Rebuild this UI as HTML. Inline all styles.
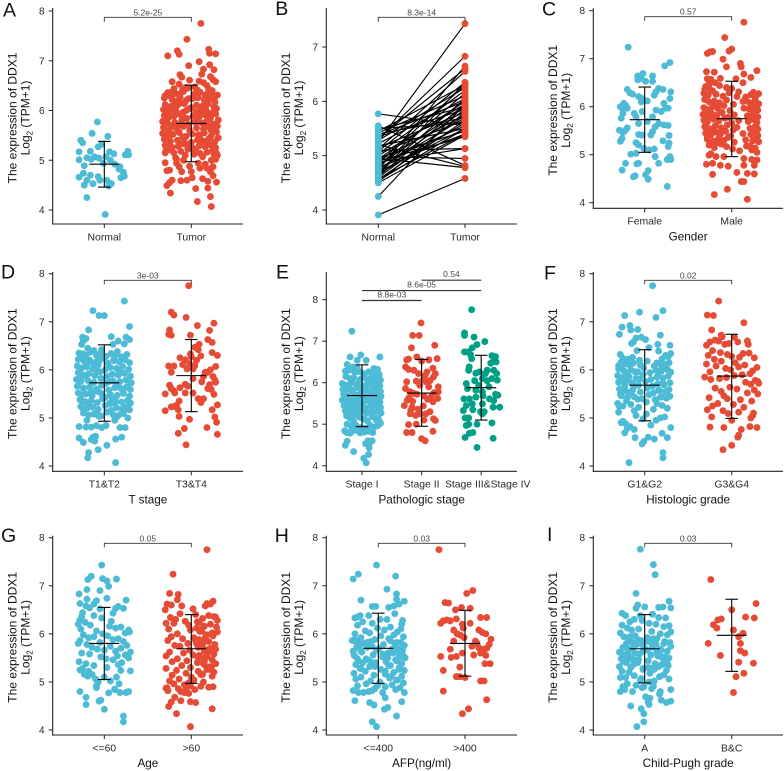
<!DOCTYPE html>
<html lang="en">
<head>
<meta charset="utf-8">
<title>DDX1 expression panels</title>
<style>
html,body{margin:0;padding:0;background:#fff;}
svg{display:block;font-family:"Liberation Sans",sans-serif;}
</style>
</head>
<body>
<svg id="chart" width="784" height="771" viewBox="0 0 784 771" xmlns="http://www.w3.org/2000/svg"></svg>
<script>
// Jitter values are hundredths of a category width; values are log2(TPM+1).
const aNormalValues=[5.77,5.54,5.48,5.40,5.35,5.27,5.32,5.17,5.18,5.17,
5.13,5.18,5.11,5.11,5.01,5.05,5.02,5.07,5.04,5.07,
5.00,4.89,4.94,4.92,4.87,4.82,4.74,4.70,4.66,4.67,
4.60,4.76,4.68,4.65,4.60,4.50,4.53,4.60,4.53,4.48,
4.25,3.91];
const aNormalJitter=[-8,-14,4,-27,-25,-7,-3,-29,-16,6,
11,27,24,28,-29,-20,-15,-11,-6,2,
7,-23,-1,12,18,17,-24,-16,-29,-7,
-5,22,23,19,-20,-23,-13,3,8,5,
-20,1];
const aTumorValues=[7.75,7.43,7.20,7.13,7.10,7.23,7.15,7.14,6.98,6.90,
6.92,6.83,6.82,6.73,6.72,6.67,6.68,6.58,6.61,6.59,
6.58,6.62,6.53,6.56,6.50,6.45,6.42,6.47,6.40,6.44,
6.36,6.34,6.38,6.30,6.33,6.37,6.32,6.35,6.29,6.31,
6.25,6.22,6.27,6.20,6.24,6.26,6.21,6.23,6.28,6.19,
6.12,6.08,6.10,6.14,6.06,6.11,6.09,6.13,6.07,6.15,
6.02,5.98,6.00,5.96,6.03,5.97,5.99,6.01,5.95,6.04,
5.90,5.86,5.88,5.92,5.84,5.89,5.87,5.91,5.85,5.93,
5.78,5.74,5.76,5.80,5.72,5.77,5.75,5.79,5.73,5.81,
5.66,5.62,5.64,5.68,5.60,5.65,5.63,5.67,5.61,5.69,
5.54,5.50,5.52,5.56,5.48,5.53,5.51,5.55,5.49,5.57,
5.42,5.38,5.40,5.44,5.36,5.41,5.39,5.43,5.37,5.45,
5.30,5.26,5.28,5.32,5.24,5.29,5.27,5.31,5.25,5.33,
5.20,5.15,5.18,5.22,5.12,5.14,5.16,5.19,5.10,5.21,
5.15,4.95,4.79,4.80,4.94,4.87,4.77,4.77,4.84,4.84,
4.77,4.88,4.94,4.87,5.07,5.00,5.14,5.02,5.10,5.02,
4.63,4.65,4.60,4.59,4.60,4.55,4.49,4.34,4.43,4.58,
4.56,4.44,4.27,4.17,4.07,4.69,
6.46,6.41,6.36,6.30,6.24,6.18,6.11,6.05,5.99,5.93,
5.87,5.81,5.75,5.69,5.63,5.57,5.51,5.45,5.39,5.33,
6.43,6.33,6.26,6.16,6.10,6.00,5.92,5.84,5.78,5.70,
5.60,5.54,5.47,5.35,5.28,5.20,5.12,5.05,5.00,4.92];
const aTumorJitter=[11,-5,-16,-14,-27,20,21,28,9,-3,
21,14,26,12,-13,-11,22,-22,-2,9,
28,25,-14,14,18,-4,-10,4,24,-20,
-27,-18,-9,-30,3,10,17,23,-24,30,
-31,-22,-13,-6,1,8,15,21,27,-17,
-30,-24,-16,-8,0,6,13,19,26,-12,
-32,-25,-18,-10,-3,5,11,17,24,29,
-31,-26,-20,-13,-5,2,9,16,22,28,
-33,-27,-19,-11,-4,4,12,18,25,31,
-32,-25,-17,-9,-2,6,14,20,26,30,
-33,-28,-21,-14,-6,1,8,15,23,29,
-31,-24,-16,-8,0,7,13,20,27,31,
-30,-22,-15,-7,2,9,16,22,28,-12,
-29,-20,-12,-4,3,10,18,24,30,-25,
-30,-30,-28,-25,-17,-14,-11,0,10,18,
22,-2,8,25,13,23,29,28,-7,-17,
13,1,-5,-12,-22,-25,-28,-24,5,19,
29,19,22,7,23,25,
-7,7,-24,16,-3,27,-19,11,-28,21,
-9,-29,15,-22,24,-14,10,-26,18,-2,
20,-13,6,27,-20,-6,19,-29,7,-15,
23,-28,-10,13,-26,5,26,-18,-9,16];

const bNormalValues=[3.91,4.25,5.77,5.55,5.50,5.48,5.45,5.42,5.40,5.38,
5.35,5.32,5.30,5.28,5.25,5.22,5.20,5.18,5.15,5.12,
5.10,5.08,5.05,5.03,5.00,4.98,4.96,4.94,4.92,4.90,
4.88,4.86,4.84,4.82,4.80,4.78,4.76,4.74,4.72,4.70,
4.68,4.66,4.64,4.62,4.60,4.58,4.56,4.54,4.52,4.50,4.95];
const bTumorValues=[4.58,5.95,5.55,4.82,5.60,5.90,6.30,6.10,5.70,6.00,
5.85,6.60,6.83,6.25,7.43,6.05,4.80,5.50,5.80,6.55,
5.13,6.35,5.65,6.20,5.95,4.95,5.45,6.00,5.75,5.35,
5.13,6.30,5.55,5.90,6.15,5.40,5.70,6.65,5.85,5.50,
6.05,5.60,6.35,5.95,5.75,5.40,5.65,5.50,5.80,5.38,4.78];

const cFemaleValues=[7.24,6.92,6.85,6.69,6.64,6.64,6.59,6.56,6.53,6.53,
6.36,6.29,6.26,6.31,6.38,6.36,6.31,6.24,6.17,6.21,
6.17,6.10,6.12,6.07,6.00,5.97,6.03,5.97,5.86,5.76,
6.07,5.97,5.97,5.90,5.93,5.90,5.86,5.79,5.79,5.69,
5.65,5.65,5.61,5.62,5.58,5.56,5.51,5.51,5.46,5.48,
5.42,5.41,5.41,5.40,5.34,5.28,5.25,5.20,5.29,5.24,
5.17,5.13,5.10,5.12,5.01,5.03,4.96,4.96,4.90,4.90,
4.82,4.81,4.82,4.82,4.68,4.67,4.58,4.54,4.56,4.49,4.34];
const cFemaleJitter=[-19,29,23,-2,-8,9,-4,-8,1,9,
-20,-17,-14,13,16,21,30,11,29,-7,
-3,-4,3,-24,-28,-26,-22,-20,-25,-27,
22,24,27,19,13,-3,-12,-10,9,3,
-7,16,27,22,12,-20,-22,-29,-25,9,
-7,-3,7,28,-26,-28,-10,-7,21,28,
27,-1,5,11,-16,-10,12,29,30,26,
-22,-9,-7,16,-26,4,1,-13,-11,4,26];
const cMaleValues=[7.76,7.44,7.20,7.16,7.11,7.14,7.15,6.99,6.90,6.83,
6.83,6.73,6.72,6.75,6.68,6.61,6.58,6.57,6.59,6.58,
6.50,6.50,6.46,6.42,6.44,6.40,6.36,6.33,6.38,6.31,
6.28,6.24,6.26,6.22,6.29,6.20,6.25,6.23,6.27,6.21,
6.15,6.10,6.12,6.08,6.14,6.05,6.11,6.09,6.13,6.06,
5.98,5.94,6.00,5.96,6.02,5.92,5.97,5.95,5.99,5.93,
5.84,5.80,5.86,5.82,5.88,5.78,5.83,5.81,5.85,5.79,
5.72,5.68,5.74,5.70,5.76,5.66,5.71,5.69,5.73,5.67,
5.58,5.54,5.60,5.56,5.62,5.52,5.57,5.55,5.59,5.53,
5.45,5.41,5.47,5.43,5.49,5.39,5.44,5.42,5.46,5.40,
5.32,5.28,5.34,5.30,5.36,5.26,5.31,5.29,5.33,5.27,
5.20,5.15,5.22,5.17,5.12,5.08,5.18,5.10,5.05,5.14,
4.59,4.17,4.28,4.63,4.44,4.44,4.07,4.61,4.60,4.78,
4.89,4.78,4.92,4.76,4.78,4.82,4.99,4.96,4.96,4.80,
6.34,6.18,6.04,5.90,5.76,5.64,5.50,5.37,5.24,5.02,
6.30,6.16,6.02,5.88,5.74,5.60,5.46,5.30,5.18,4.90];
const cMaleJitter=[14,-8,0,-3,-28,-25,-22,-10,10,11,
-6,-29,-20,29,14,22,-28,-24,-13,5,
13,-19,-26,-30,-14,-6,-31,-22,0,8,
-32,-27,-18,-10,-3,16,22,28,31,6,
-31,-26,-20,-14,-6,2,13,20,27,31,
-32,-28,-22,-16,-9,-2,14,20,25,30,
-33,-27,-23,-17,-11,-4,3,18,24,30,
-32,-28,-21,-15,-8,0,8,19,26,29,
-31,-25,-19,-12,-5,2,6,21,27,30,
-30,-24,-18,-13,-7,-1,13,22,28,30,
-28,-21,-15,-9,-4,3,16,24,28,31,
-26,-20,-12,-6,1,9,17,23,29,27,
-22,-20,-5,6,11,14,18,18,26,26,
29,14,14,-4,-13,-22,-26,-18,-9,-29,
-24,-29,-17,-26,-20,-30,-23,-28,-18,-24,
25,27,23,26,22,28,24,29,21,23];

const dLowValues=[7.43,7.23,7.13,7.13,6.90,6.83,6.69,6.68,6.68,6.61,
6.65,6.60,6.63,6.53,6.54,6.53,6.45,6.40,6.42,6.38,
6.35,6.33,6.37,6.30,6.36,6.28,6.34,6.31,6.27,6.32,
6.22,6.18,6.20,6.16,6.24,6.14,6.19,6.17,6.21,6.15,
6.08,6.04,6.06,6.02,6.10,6.00,6.05,6.03,6.07,6.01,
5.94,5.90,5.92,5.88,5.96,5.86,5.91,5.89,5.93,5.87,
5.80,5.76,5.78,5.74,5.82,5.72,5.77,5.75,5.79,5.73,
5.66,5.62,5.64,5.60,5.68,5.58,5.63,5.61,5.65,5.59,
5.52,5.48,5.50,5.46,5.54,5.44,5.49,5.47,5.51,5.45,
5.38,5.34,5.36,5.32,5.40,5.30,5.35,5.33,5.37,5.31,
5.24,5.20,5.22,5.18,5.26,5.16,5.21,5.19,5.23,5.17,
5.10,5.06,5.08,5.04,5.12,5.07,5.05,5.09,5.00,5.03,
4.95,4.82,4.81,4.81,4.84,4.80,4.84,5.02,4.95,4.80,
4.80,4.58,4.49,4.60,4.62,4.55,4.52,4.56,4.60,4.43,
4.34,4.28,4.17,4.07,
6.30,6.18,6.06,5.95,5.84,5.72,5.60,5.50,5.40,5.28,
5.18,5.08,6.26,6.12,6.00,5.88,5.76,5.64,5.52,5.42,
5.30,5.20,5.10,6.22,6.10,5.98,5.86,5.70,5.56,5.34];
const dLowJitter=[23,-13,-6,0,29,-18,8,-25,25,-24,
-21,16,29,-26,23,10,-19,-12,-3,15,
-29,-24,-16,-9,-4,2,8,13,20,26,
-30,-23,-17,-10,-2,4,11,17,24,29,
-31,-26,-20,-13,-7,1,7,14,21,28,
-30,-25,-18,-11,-5,3,9,16,23,30,
-32,-27,-19,-12,-4,2,10,18,25,31,
-31,-24,-17,-9,-3,5,12,19,26,30,
-30,-26,-21,-14,-6,0,7,15,22,29,
-28,-22,-15,-8,-2,6,13,20,27,30,
-27,-20,-13,-7,1,8,14,21,25,29,
-24,-18,-12,-4,3,10,16,22,27,-6,
-20,-29,-21,-15,-9,-3,2,14,12,24,
18,-29,-24,-13,-10,-15,-11,13,20,3,
-7,-18,-19,13,
-21,-6,5,18,-27,-14,22,-3,9,-18,
26,-9,-27,-12,16,-22,6,27,-16,1,
12,-25,20,11,-20,-8,-28,15,-11,-24];
const dHighValues=[7.75,7.20,7.14,7.09,6.97,6.92,6.82,6.83,6.74,6.72,
6.72,6.63,6.57,6.53,6.47,6.42,6.36,6.30,6.33,6.29,
6.25,6.21,6.27,6.20,6.08,6.08,6.11,6.13,6.09,6.07,
6.00,5.95,6.02,6.02,5.95,5.95,5.86,5.86,5.79,5.74,
5.75,5.82,5.68,5.70,5.69,5.61,5.59,5.61,5.56,5.63,
5.66,5.49,5.50,5.52,5.52,5.52,5.40,5.40,5.32,5.35,
5.26,5.23,5.24,5.27,5.17,5.15,5.17,5.02,5.03,4.97,
4.91,4.80,4.78,4.68,4.66,4.44];
const dHighJitter=[-3,-23,-20,-6,26,7,21,-25,-26,-23,
-1,19,24,9,4,8,24,30,-1,11,
-13,-7,0,6,-26,-20,-10,-2,4,28,
22,-23,-5,2,16,19,25,14,27,28,
12,2,-25,-7,21,19,23,-23,-20,-13,
-4,26,-30,-19,-7,2,8,14,11,-14,
-17,-23,-19,30,24,-30,-15,27,-14,-2,
29,18,-8,-15,30,-6];

const eOneValues=[7.24,6.67,6.62,6.62,6.54,6.54,6.44,6.38,6.35,6.34,
6.32,6.28,6.30,6.25,6.27,6.22,6.26,6.24,6.20,6.23,
6.15,6.10,6.12,6.08,6.14,6.05,6.11,6.09,6.13,6.06,
5.98,5.94,6.00,5.96,6.02,5.92,5.97,5.95,5.99,5.93,
5.84,5.80,5.86,5.82,5.88,5.78,5.83,5.81,5.85,5.79,
5.72,5.68,5.74,5.70,5.76,5.66,5.71,5.69,5.73,5.67,
5.58,5.54,5.60,5.56,5.62,5.52,5.57,5.55,5.59,5.53,
5.45,5.41,5.47,5.43,5.49,5.39,5.44,5.42,5.46,5.40,
5.32,5.28,5.34,5.30,5.36,5.26,5.31,5.29,5.33,5.27,
5.20,5.15,5.22,5.17,5.12,5.08,5.18,5.10,5.05,5.14,
5.00,4.95,4.97,4.92,4.90,4.98,4.93,4.96,5.02,5.07,
4.84,4.80,4.82,4.85,4.79,4.81,4.83,4.80,4.59,4.49,
4.34,4.53,4.60,4.43,4.27,4.18,4.07,4.53,4.60,4.78];
const eOneJitter=[-17,-2,-20,30,-8,7,-25,-15,-8,20,
26,-28,-22,-12,-5,2,11,23,29,17,
-27,-20,-14,-3,4,9,15,21,28,31,
-33,-26,-18,-10,-4,3,12,19,25,30,
-32,-28,-21,-15,-7,1,8,16,24,31,
-31,-24,-16,-9,-2,6,13,20,27,32,
-33,-27,-19,-11,-5,2,10,18,26,30,
-30,-23,-17,-8,-3,5,14,21,28,31,
-28,-21,-13,-6,0,7,15,22,29,32,
-26,-20,-12,-4,3,9,17,24,30,27,
-25,-18,-10,-2,5,13,20,26,31,-14,
-29,-26,-18,-10,-3,4,11,18,-25,-28,
-14,6,17,12,11,3,7,12,10,-20];
const eTwoValues=[7.44,7.14,7.14,6.90,6.84,6.55,6.57,6.62,6.52,6.55,
6.58,6.38,6.32,6.35,6.30,6.22,6.26,6.22,6.14,6.18,
6.02,6.04,6.02,6.05,6.06,5.86,5.90,5.78,5.78,5.74,
5.90,5.94,5.76,5.72,5.68,5.66,5.64,5.62,5.58,5.60,
5.55,5.54,5.45,5.41,5.44,5.36,5.30,5.34,5.25,5.21,
5.25,5.25,5.13,5.09,4.99,5.00,5.10,4.80,4.80,4.83,
4.65,4.60];
const eTwoJitter=[-1,-15,-4,22,-17,-25,-22,-8,0,12,
26,-27,-22,19,-13,-5,9,23,20,6,
-25,-9,8,14,2,-27,28,28,-19,-13,
12,-3,21,-8,4,16,-21,27,-24,10,
-15,19,-29,-16,3,-6,14,-18,-19,-10,
-2,7,20,23,-22,-9,4,-25,-16,19,
0,6];
const eThreeValues=[7.76,7.20,7.14,7.10,6.99,6.92,6.84,6.74,6.74,6.68,
6.58,6.65,6.63,6.54,6.50,6.47,6.38,6.30,6.30,6.30,
6.22,6.23,6.26,6.22,6.06,6.10,6.10,5.98,6.05,6.05,
5.86,5.94,5.90,5.82,5.78,5.72,5.61,5.61,5.65,5.68,
5.61,5.57,5.70,5.45,5.49,5.49,5.41,5.41,5.33,5.35,
5.30,5.15,5.15,5.25,5.03,5.30,4.97,5.00,5.00,4.78,
4.80,4.68,4.66,4.44];
const eThreeJitter=[-16,-28,-28,-12,6,-7,-15,-28,-22,-18,
-16,18,24,21,25,16,-20,-21,10,21,
7,-9,-3,26,27,18,2,-25,-11,10,
-23,-4,13,-9,2,24,-29,-20,-9,3,
14,21,28,-25,-15,2,20,31,-30,-14,
-1,-27,-21,2,18,5,-25,-21,-7,-20,
-14,-27,20,-7];

const fLowValues=[7.75,7.20,7.23,7.13,7.09,6.89,6.92,6.83,6.84,6.74,
6.72,6.68,6.63,6.66,6.58,6.55,6.53,6.51,6.46,6.39,
6.40,6.32,6.34,6.30,6.27,6.24,6.22,6.26,6.20,6.23,
6.16,6.12,6.14,6.10,6.18,6.08,6.13,6.11,6.15,6.09,
6.02,5.98,6.00,5.96,6.04,5.94,5.99,5.97,6.01,5.95,
5.88,5.84,5.86,5.82,5.90,5.80,5.85,5.83,5.87,5.81,
5.74,5.70,5.72,5.68,5.76,5.66,5.71,5.69,5.73,5.67,
5.60,5.56,5.58,5.54,5.62,5.52,5.57,5.55,5.59,5.53,
5.46,5.42,5.44,5.40,5.48,5.38,5.43,5.41,5.45,5.39,
5.30,5.25,5.28,5.22,5.33,5.18,5.26,5.20,5.24,5.15,
5.12,5.05,5.08,4.98,4.93,4.90,4.95,5.00,4.88,5.02,
4.85,4.82,4.78,4.76,4.80,4.69,4.59,4.46,4.51,4.60,
4.56,4.59,4.68,4.28,4.17,4.07,
6.20,6.06,5.92,5.78,5.64,5.50,5.36,6.14,6.00,5.86,
5.72,5.58,5.44,5.30,6.10,5.96,5.80,5.66,5.52];
const fLowJitter=[9,-6,21,-23,13,-26,-17,-16,-8,-29,
18,-4,1,-10,-13,-15,15,29,5,16,
-9,-28,30,24,27,-25,-19,-14,-6,20,
-27,-21,-13,-5,3,11,17,23,28,-30,
-30,-24,-16,-8,-1,6,13,19,26,30,
-31,-26,-18,-10,-2,7,14,21,27,-6,
-30,-23,-15,-7,1,9,15,22,29,-11,
-29,-22,-14,-5,3,10,17,24,28,-18,
-27,-20,-12,-3,5,12,18,25,29,-8,
-31,-25,-16,-7,2,10,20,26,-29,-12,
-30,-10,2,-2,-25,-27,13,18,-22,23,
7,-17,-20,-12,30,-23,-11,-3,-1,4,
11,26,20,21,21,-18,
-22,-27,-20,-26,-23,-28,-21,14,19,15,
21,16,20,14,-17,-11,-19,-12,-16];
const fHighValues=[7.43,7.14,7.13,6.98,6.83,6.72,6.69,6.68,6.58,6.60,
6.55,6.53,6.51,6.58,6.62,6.53,6.60,6.40,6.36,6.30,
6.34,6.28,6.35,6.25,6.32,6.26,6.22,6.18,6.15,6.12,
6.10,6.05,6.03,6.08,6.00,5.98,6.06,5.96,5.90,5.92,
5.85,5.88,5.80,5.78,5.82,5.76,5.74,5.84,5.70,5.72,
5.62,5.60,5.55,5.58,5.64,5.50,5.52,5.46,5.42,5.40,
5.38,5.35,5.30,5.28,5.25,5.22,5.17,5.15,5.12,5.10,
5.09,5.02,5.05,5.00,4.95,4.82,4.81,4.76,4.80,4.80,
4.60,4.64,4.43,4.34];
const fHighJitter=[-15,-28,-21,14,-23,-12,-11,3,7,18,
-3,19,-29,-25,-19,-8,-15,-22,-13,-27,
13,0,20,26,-5,9,-20,-12,4,-29,
15,29,-7,-18,-1,24,8,-25,12,21,
-31,3,-24,27,-14,30,16,-6,22,31,
-19,6,-12,26,-2,30,18,-9,-26,-5,
10,23,-16,2,-22,14,-28,-10,8,25,
-4,-23,24,22,0,21,-25,11,-9,29,
7,8,0,-10];

const gLowValues=[7.43,7.14,7.20,7.13,7.15,7.10,6.99,6.92,6.90,6.83,
6.74,6.72,6.70,6.63,6.69,6.62,6.58,6.54,6.57,6.53,
6.53,6.43,6.52,6.44,6.36,6.38,6.29,6.33,6.26,6.20,
6.24,6.18,6.16,6.10,6.12,6.14,6.06,6.02,6.08,6.00,
5.98,5.92,5.96,5.90,6.04,5.94,5.88,5.86,5.82,5.84,
5.80,5.76,5.78,5.72,5.74,5.70,5.68,5.66,5.62,5.64,
5.60,5.56,5.58,5.52,5.54,5.50,5.46,5.42,5.48,5.40,
5.38,5.36,5.34,5.28,5.30,5.25,5.22,5.24,5.23,5.16,
5.12,5.15,5.10,5.10,5.06,5.00,5.02,4.96,4.92,4.88,
4.85,4.80,4.68,4.53,4.62,4.60,4.43,4.77,4.84,4.78,
4.78,4.80,4.29,4.17];
const gLowJitter=[-3,14,-15,-19,-2,3,5,-20,-5,-29,
3,-20,25,-28,-9,-12,-21,-17,16,13,
22,10,-5,-25,-26,-12,-28,-3,8,-30,
-22,-16,6,-27,13,19,-9,24,28,-2,
-24,-18,4,16,29,-12,10,-28,-5,22,
-30,26,-20,-14,7,19,-8,0,30,13,
-26,24,-17,-4,15,28,10,-29,2,20,
-21,16,-12,-25,3,-28,-18,19,30,-23,
-19,-14,0,14,-10,-7,7,17,-9,-9,
12,-28,-21,-21,-4,-6,0,5,12,18,
25,28,22,22];
const gHighValues=[7.75,7.24,6.84,6.82,6.62,6.60,6.71,6.58,6.68,6.63,
6.58,6.52,6.50,6.62,6.42,6.40,6.38,6.36,6.34,6.30,
6.32,6.28,6.35,6.26,6.22,6.24,6.20,6.18,6.22,6.16,
6.14,6.10,6.12,6.08,6.04,6.02,6.06,6.00,5.98,5.94,
5.92,5.96,5.90,5.88,5.86,5.84,5.82,5.80,5.78,5.76,
5.74,5.72,5.70,5.68,5.66,5.64,5.62,5.60,5.58,5.56,
5.54,5.52,5.50,5.48,5.46,5.44,5.42,5.40,5.38,5.36,
5.34,5.32,5.30,5.28,5.26,5.24,5.22,5.20,5.18,5.16,
5.14,5.12,5.10,5.06,5.04,5.02,5.00,4.98,4.96,4.94,
4.90,4.88,4.86,4.84,4.82,4.80,4.78,4.76,4.92,4.91,
4.89,4.84,4.87,4.82,4.49,4.34,4.07,4.44,4.57,4.59,
4.61,4.68,4.58,
6.25,6.10,5.98,5.86,5.74,5.62,5.50,5.38,5.26,6.05,
5.92,5.80,5.68,5.55,5.42,5.30,5.15,5.90,5.72,5.58];
const gHighJitter=[18,-21,-25,-15,-28,-23,-16,-11,25,18,
16,2,-30,22,-13,5,20,26,-24,-18,
13,30,28,-7,-29,9,22,-3,-20,15,
29,-26,6,-1,30,24,12,-16,18,-23,
3,25,-10,9,-27,20,14,-4,27,-19,
-13,8,22,28,-2,15,-25,-9,26,2,
-29,18,12,-16,24,-5,-22,7,28,15,
-11,22,-1,-29,18,-17,8,26,-6,13,
-22,24,0,-14,3,-25,14,-3,-20,-8,
25,-28,-15,-6,-27,-12,-8,-3,-1,11,
20,4,-29,-27,-26,-17,-1,24,5,-1,
-12,-19,-23,
7,12,17,5,11,19,8,14,21,10,
16,6,20,9,15,23,11,4,13,18];

const hLowValues=[7.43,7.20,7.24,7.14,6.93,6.83,6.70,6.68,6.72,6.57,
6.57,6.55,6.58,6.62,6.42,6.38,6.35,6.38,6.33,6.30,
6.30,6.28,6.25,6.22,6.20,6.18,6.14,6.12,6.10,6.06,
6.08,6.04,6.02,6.00,5.98,5.96,5.94,5.92,5.90,5.88,
5.86,5.84,5.82,5.80,5.78,5.84,5.82,5.76,5.74,5.72,
5.70,5.68,5.66,5.64,5.62,5.60,5.58,5.56,5.54,5.52,
5.50,5.48,5.46,5.44,5.42,5.40,5.38,5.36,5.34,5.32,
5.30,5.28,5.26,5.24,5.22,5.20,5.18,5.16,5.14,5.12,
5.10,5.08,5.06,5.04,5.02,5.00,4.98,4.96,4.94,4.92,
4.90,4.88,4.86,4.84,4.82,4.80,4.78,4.82,4.78,4.78,
4.61,4.57,4.52,4.67,4.47,4.43,4.59,4.29,4.17,4.07,4.78,
5.88,5.80,5.72,5.64,5.56,5.48,5.40,5.86,5.78,5.68,
5.60,5.52,5.44,5.34,5.26,5.82,5.74,5.66,5.58,5.50,
5.42,5.32,5.22,5.12,5.04,4.92,5.70,5.54,5.46,5.28];
const hLowJitter=[-2,20,-23,-29,10,21,-20,30,21,-7,
-3,12,18,24,19,-21,-24,-11,-27,2,
10,28,-18,-7,27,-24,14,-1,26,-15,
7,22,-10,-27,18,3,29,-20,12,-4,
-30,-26,26,-16,6,-9,21,30,-22,-13,
1,16,28,-29,-19,11,24,-6,-27,5,
31,-14,20,-23,9,-3,27,-26,14,-10,
24,-21,3,30,-15,18,-28,8,-5,27,
-20,13,-26,22,-9,2,29,-14,16,-24,
8,25,-4,20,-29,-11,-23,-7,5,-17,
-27,-10,-5,8,11,7,27,21,-7,-2,30,
-27,-22,-25,-20,-28,-24,-18,14,19,23,
17,26,21,12,24,-13,-7,-2,5,11,
-9,-4,8,15,21,-1,27,29,-12,-20];
const hHighValues=[7.75,6.90,6.84,6.65,6.64,6.55,6.50,6.53,6.34,6.34,
6.22,6.27,6.27,6.29,6.31,6.20,6.22,6.12,6.08,6.08,
6.03,6.00,6.00,5.97,5.92,5.85,5.89,5.80,5.78,5.70,
5.85,5.68,5.74,5.71,5.68,5.60,5.56,5.60,5.55,5.53,
5.51,5.53,5.38,5.38,5.31,5.24,5.11,5.11,5.09,5.02,
5.02,4.81,4.63,4.44,4.34];
const hHighJitter=[-30,9,2,-23,-19,-4,-11,6,18,25,
-28,-25,-17,-21,-10,-3,6,-2,-13,16,
20,24,-9,-5,-1,12,30,14,28,25,
-13,-17,8,16,22,-3,10,18,24,-28,
-16,-10,23,29,-6,-25,-10,-6,0,18,
22,-25,25,4,-3];

const iLowValues=[7.76,7.44,7.23,6.84,6.68,6.60,6.56,6.53,6.55,6.56,
6.54,6.43,6.38,6.34,6.33,6.38,6.41,6.30,6.25,6.22,
6.28,6.18,6.20,6.15,6.12,6.17,6.08,6.10,6.05,6.02,
6.00,5.98,6.04,5.94,5.96,5.92,5.90,5.88,5.86,5.84,
5.82,5.80,5.78,5.76,5.74,5.72,5.70,5.68,5.66,5.64,
5.62,5.60,5.58,5.56,5.54,5.52,5.50,5.48,5.46,5.44,
5.42,5.40,5.38,5.36,5.34,5.32,5.30,5.28,5.26,5.24,
5.22,5.20,5.18,5.15,5.13,5.11,5.09,5.06,5.04,5.02,
5.09,4.96,4.93,4.90,4.88,4.86,4.80,4.84,4.80,4.50,
4.44,4.34,4.17,4.07,4.69,4.66,4.58,4.53,4.80,4.75,
4.62,4.57,4.60,4.84,4.91,4.90,5.07,5.00,
5.94,5.82,5.70,5.60,5.50,5.40,5.84,5.72,5.62,5.52,
5.42,5.32,5.88,5.76,5.66,5.56,5.46,5.36,5.26,5.78,
5.68,5.58,5.48,5.38,5.28,5.90,5.80,5.64,5.44,5.30];
const iLowJitter=[-5,10,12,-10,28,-8,0,-10,16,21,
30,-26,-22,16,24,-5,9,-12,-17,5,
-3,-26,13,22,-20,28,-15,-7,8,-28,
18,26,30,-24,-11,3,14,-18,-4,23,
29,-21,-9,9,30,-25,-14,1,19,26,
-29,-19,-6,7,15,23,28,-27,-12,4,
-23,-8,12,20,27,-29,-16,-2,11,25,
-26,-18,6,22,-12,17,-22,28,-5,11,
-28,-20,-10,-25,-3,8,-28,-23,-14,-16,
-4,-1,-1,-9,1,6,4,5,18,17,
19,25,30,30,10,-1,-4,5,
-17,-14,-20,-11,-16,-21,4,9,14,19,
22,16,-8,-2,3,-23,-7,-13,-2,13,
18,-26,-18,26,8,10,22,-2,-25,4];
const iHighValues=[7.13,6.63,6.50,6.35,6.33,6.31,6.29,6.19,6.12,6.08,
6.01,5.94,5.80,5.80,5.65,5.60,5.55,5.41,5.39,5.18,5.11,4.78];
const iHighJitter=[-24,28,0,16,26,-12,-16,-21,-17,2,
13,8,-27,10,10,15,-13,8,25,14,5,2];

const pValues=["5.2e-25","8.3e-14","0.57","3e-03","8.8e-03","8.6e-05","0.54","0.02","0.05","0.03","0.03"];
const meanStats={
 a:[[4.92,4.46,5.38],[5.74,4.97,6.51]],
 c:[[5.73,5.05,6.41],[5.75,4.96,6.53]],
 d:[[5.73,4.93,6.52],[5.88,5.13,6.63]],
 e:[[5.69,4.94,6.43],[5.75,4.95,6.56],[5.88,5.10,6.66]],
 f:[[5.68,4.94,6.42],[5.87,4.99,6.74]],
 g:[[5.80,5.05,6.55],[5.69,4.97,6.40]],
 h:[[5.70,4.97,6.43],[5.80,5.12,6.49]],
 i:[[5.69,4.98,6.40],[5.97,5.22,6.72]]
};
const BLUE="#4DBBD5",RED="#E64B35",GREEN="#00A087";

const panels=[
 {id:"a",letter:"A",lx:3,ly:16.5,ax:52.7,right:243,top:8,bottom:224,c1:104.3,step:87,y8:11,y4:210,ticks:[4,5,6,7,8],cats:["Normal","Tumor"],title:"",
  series:[[aNormalValues,aNormalJitter,BLUE],[aTumorValues,aTumorJitter,RED]],stats:meanStats.a,brackets:[[1,2,7.873,pValues[0],4.4]]},
 {id:"b",letter:"B",lx:275.3,ly:15,ax:326.3,right:517,top:8,bottom:224,c1:378.3,step:86.7,y8:-7.3,y4:210,ticks:[4,5,6,7],cats:["Normal","Tumor"],title:"",
  paired:[bNormalValues,bTumorValues],brackets:[[1,2,7.547,pValues[1],4.4]]},
 {id:"c",letter:"C",lx:542,ly:15.5,ax:593.3,right:783,top:8.3,bottom:208.3,c1:644.7,step:87,y8:10.7,y4:202.7,ticks:[4,5,6,7,8],cats:["Female","Male"],title:"Gender",
  series:[[cFemaleValues,cFemaleJitter,BLUE],[cMaleValues,cMaleJitter,RED]],stats:meanStats.c,brackets:[[1,2,7.875,pValues[2],4]]},
 {id:"d",letter:"D",lx:1,ly:278.7,ax:52.7,right:243,top:272,bottom:471.3,c1:104.3,step:87,y8:273.7,y4:466,ticks:[4,5,6,7,8],cats:["T1&T2","T3&T4"],title:"T stage",
  series:[[dLowValues,dLowJitter,BLUE],[dHighValues,dHighJitter,RED]],stats:meanStats.d,brackets:[[1,2,7.863,pValues[3],4]]},
 {id:"e",letter:"E",lx:276,ly:278.7,ax:326.3,right:517,top:272,bottom:471.3,c1:362,step:59.6,y8:299.7,y4:465.7,ticks:[4,5,6,7,8],cats:["Stage I","Stage II","Stage III&Stage IV"],labelShift:[0,0,6.5],title:"Pathologic stage",
  series:[[eOneValues,eOneJitter,BLUE],[eTwoValues,eTwoJitter,RED],[eThreeValues,eThreeJitter,GREEN]],stats:meanStats.e,
  brackets:[[1,2,7.98,pValues[4],0],[1,3,8.22,pValues[5],0],[2,3,8.47,pValues[6],0]]},
 {id:"f",letter:"F",lx:544,ly:279.7,ax:593.3,right:783,top:272,bottom:471.3,c1:644.7,step:87,y8:273.7,y4:466,ticks:[4,5,6,7,8],cats:["G1&G2","G3&G4"],title:"Histologic grade",
  series:[[fLowValues,fLowJitter,BLUE],[fHighValues,fHighJitter,RED]],stats:meanStats.f,brackets:[[1,2,7.863,pValues[7],4]]},
 {id:"g",letter:"G",lx:1,ly:542,ax:52.7,right:243,top:535.7,bottom:735,c1:104.3,step:87,y8:537.7,y4:730,ticks:[4,5,6,7,8],cats:["<=60",">60"],title:"Age",
  series:[[gLowValues,gLowJitter,BLUE],[gHighValues,gHighJitter,RED]],stats:meanStats.g,brackets:[[1,2,7.884,pValues[8],4]]},
 {id:"h",letter:"H",lx:274.7,ly:542,ax:326.3,right:517,top:535.7,bottom:735,c1:378.3,step:86.7,y8:537.7,y4:730,ticks:[4,5,6,7,8],cats:["<=400",">400"],title:"AFP(ng/ml)",
  series:[[hLowValues,hLowJitter,BLUE],[hHighValues,hHighJitter,RED]],stats:meanStats.h,brackets:[[1,2,7.884,pValues[9],4]]},
 {id:"i",letter:"I",lx:547,ly:541,ax:593.3,right:783,top:535.7,bottom:735,c1:644.7,step:87,y8:537.7,y4:730,ticks:[4,5,6,7,8],cats:["A","B&C"],title:"Child-Pugh grade",
  series:[[iLowValues,iLowJitter,BLUE],[iHighValues,iHighJitter,RED]],stats:meanStats.i,brackets:[[1,2,7.884,pValues[10],4]]}
];

const NS="http://www.w3.org/2000/svg";
const root=document.getElementById("chart");
const DOT=3.45;
function mk(tag,attrs,parent,txt){
  const el=document.createElementNS(NS,tag);
  for(const k in attrs)el.setAttribute(k,attrs[k]);
  if(txt!==undefined)el.textContent=txt;
  parent.appendChild(el);
  return el;
}
function line(parent,x1,y1,x2,y2,stroke,w){
  return mk("line",{x1:x1,y1:y1,x2:x2,y2:y2,stroke:stroke,"stroke-width":w},parent);
}
panels.forEach(function(p){
  const g=mk("g",{},root);
  
  
  const k=(p.y4-p.y8)/4;
  const y=function(v){return p.y4-(v-4)*k;};
  const x=function(c){return p.c1+(c-1)*p.step;};

  const letter=mk("text",{x:p.lx,y:p.ly,"font-size":19.5,fill:"#111"},g,p.letter);
  
  

  if(p.paired){
    const nv=p.paired[0],tv=p.paired[1];
    nv.forEach(function(v,i){
      const l=line(g,x(1),y(v),x(2),y(tv[i]),"#000",1.15);
      
      
    });
    nv.forEach(function(v){
      const c=mk("circle",{cx:x(1),cy:y(v),r:DOT,fill:BLUE},g);
      
      
    });
    tv.forEach(function(v){
      const c=mk("circle",{cx:x(2),cy:y(v),r:DOT,fill:RED},g);
      
      
    });
  }
  if(p.series){
    const js=p.step/100;
    p.series.forEach(function(s,si){
      const vals=s[0],jit=s[1];
      vals.forEach(function(v,i){
        const c=mk("circle",{cx:x(si+1)+(jit[i]??0)*js,cy:y(v),r:DOT,fill:s[2]},g);
        
        
      });
    });
  }
  if(p.stats){
    const capW=6.3,halfW=15;
    p.stats.forEach(function(st,si){
      const cx=x(si+1);
      const eb=mk("g",{},g);
      
      
      line(eb,cx,y(st[1]),cx,y(st[2]),"#000",1.1);
      line(eb,cx-capW,y(st[1]),cx+capW,y(st[1]),"#000",1.1);
      line(eb,cx-capW,y(st[2]),cx+capW,y(st[2]),"#000",1.1);
      line(eb,cx-halfW,y(st[0]),cx+halfW,y(st[0]),"#000",1.1);
    });
  }
  p.brackets.forEach(function(b){
    const br=mk("g",{},g);
    
    
    const x1=x(b[0]),x2=x(b[1]),yy=y(b[2]),tip=b[4];
    if(tip>0){
      mk("path",{d:"M"+x1+" "+(yy+tip)+"V"+yy+"H"+x2+"V"+(yy+tip),fill:"none",stroke:"#333","stroke-width":0.9},br);
    }else{
      line(br,x1,yy,x2,yy,"#333",1.2);
    }
    mk("text",{x:(x1+x2)/2,y:yy-(tip>0?2:3),"text-anchor":"middle","font-size":8.5,fill:"#444"},br,b[3]);
  });

  const yAxis=mk("g",{},g);
  
  
  line(yAxis,p.ax,p.top,p.ax,p.bottom+0.5,"#222",1.1);
  p.ticks.forEach(function(t){
    line(yAxis,p.ax-4,y(t),p.ax,y(t),"#222",1);
    mk("text",{x:p.ax-8.2,y:y(t)+3.5,"text-anchor":"end","font-size":10,fill:"#2a2a2a"},yAxis,String(t));
  });

  const xAxis=mk("g",{},g);
  
  
  line(xAxis,p.ax-0.5,p.bottom,p.right,p.bottom,"#222",1.1);
  p.cats.forEach(function(c,i){
    line(xAxis,x(i+1),p.bottom,x(i+1),p.bottom+4,"#222",1);
    const shift=p.labelShift?p.labelShift[i]:0;
    mk("text",{x:x(i+1)+shift,y:p.bottom+16.4,"text-anchor":"middle","font-size":10.4,fill:"#2a2a2a"},xAxis,c);
  });

  if(p.title){
    const xt=mk("text",{x:(p.ax+p.right)/2,y:p.bottom+32,"text-anchor":"middle","font-size":11.7,fill:"#111"},g,p.title);
    
    
  }

  const cy=(p.top+p.bottom)/2+2;
  const t1x=p.ax-36.3,t2x=p.ax-23.2;
  const yt=mk("text",{x:t1x,y:cy,transform:"rotate(-90 "+t1x+" "+cy+")","text-anchor":"middle","font-size":12,fill:"#111"},g,"The expression of DDX1");
  
  
  const yt2=mk("text",{x:t2x,y:cy,transform:"rotate(-90 "+t2x+" "+cy+")","text-anchor":"middle","font-size":12,fill:"#111"},g);
  
  
  mk("tspan",{},yt2,"Log");
  mk("tspan",{dy:3,"font-size":8},yt2,"2");
  mk("tspan",{dy:-3},yt2," (TPM+1)");
});
</script>
</body>
</html>
